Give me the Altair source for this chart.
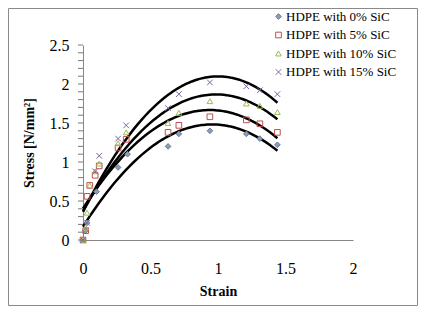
import altair as alt
import pandas as pd

series_names = ["HDPE with 0% SiC", "HDPE with 5% SiC", "HDPE with 10% SiC", "HDPE with 15% SiC"]

x_0 = [0, 0.02, 0.03, 0.10, 0.26, 0.33, 0.63, 0.71, 0.94, 1.21, 1.31, 1.44]
y_0 = [0, 0.12, 0.22, 0.62, 0.93, 1.10, 1.20, 1.36, 1.40, 1.36, 1.30, 1.22]

x_5 = [0, 0.02, 0.03, 0.05, 0.09, 0.12, 0.26, 0.32, 0.63, 0.71, 0.94, 1.21, 1.31, 1.44]
y_5 = [0, 0.12, 0.56, 0.70, 0.83, 0.95, 1.18, 1.29, 1.38, 1.47, 1.58, 1.54, 1.49, 1.38]

x_10 = [0, 0.02, 0.03, 0.05, 0.09, 0.12, 0.26, 0.32, 0.63, 0.71, 0.94, 1.21, 1.31, 1.44]
y_10 = [0, 0.16, 0.35, 0.70, 0.88, 0.98, 1.24, 1.38, 1.50, 1.63, 1.78, 1.75, 1.72, 1.64]

x_15 = [0, 0.03, 0.09, 0.12, 0.26, 0.32, 0.63, 0.71, 0.94, 1.21, 1.31, 1.44]
y_15 = [0, 0.22, 0.88, 1.08, 1.30, 1.47, 1.69, 1.87, 2.02, 1.97, 1.92, 1.87]

x_ticks = [0, 0.5, 1, 1.5, 2]
y_ticks = [0, 0.1, 0.2, 0.3, 0.4, 0.5, 0.6, 0.7, 0.8, 0.9, 1, 1.1, 1.2, 1.3, 1.4,
           1.5, 1.6, 1.7, 1.8, 1.9, 2, 2.1, 2.2, 2.3, 2.4, 2.5]

shapes = ["diamond", "square", "triangle-up", "M-1,-1L1,1M1,-1L-1,1"]
strokes = ["#6b7b99", "#c0504d", "#9bbb59", "#8064a2"]
fills = ["#8d9bb5", "transparent", "transparent", "transparent"]

rows = []
for name, xs, ys in zip(series_names, [x_0, x_5, x_10, x_15], [y_0, y_5, y_10, y_15]):
    for a, b in zip(xs, ys):
        rows.append({"series": name, "strain": a, "stress": b})
df = pd.DataFrame(rows)
tick_df = pd.DataFrame({"stress": y_ticks})

FONT = "Liberation Serif"

xenc = alt.X("strain:Q", title="Strain",
             scale=alt.Scale(domain=[0, 2], nice=False),
             axis=alt.Axis(values=x_ticks, ticks=False, grid=False, labelPadding=20,
                           titlePadding=8, labelFlush=False, format="~g",
                           labelOverlap=False))
yenc = alt.Y("stress:Q", title="Stress [N/mm²]",
             scale=alt.Scale(domain=[0, 2.5], nice=False),
             axis=alt.Axis(values=y_ticks, grid=False, ticks=False, labelPadding=14,
                           titlePadding=13, labelFlush=False, labelOverlap=False,
                           format="~g",
                           labelExpr="(datum.value * 10) % 5 == 0 ? datum.label : ''"))

points = alt.Chart(df).mark_point(size=32, strokeWidth=1, opacity=1).encode(
    x=xenc, y=yenc,
    shape=alt.Shape("series:N", scale=alt.Scale(domain=series_names, range=shapes), title=None),
    stroke=alt.Stroke("series:N", scale=alt.Scale(domain=series_names, range=strokes), title=None),
    fill=alt.Fill("series:N", scale=alt.Scale(domain=series_names, range=fills), title=None),
)

trend = alt.Chart(df).transform_regression(
    "strain", "stress", method="poly", order=2, groupby=["series"]
).mark_line(color="black", strokeWidth=2.5).encode(
    x=xenc, y=yenc, detail="series:N"
)

yticks_layer = alt.Chart(tick_df).mark_rule(color="#7a7a7a", strokeWidth=1).encode(
    y=yenc, x=alt.value(-5), x2=alt.value(0)
)

border = alt.Chart(pd.DataFrame({"a": [0]})).mark_rect(
    fill="transparent", stroke="#8a8a8a", strokeWidth=1
).encode(
    x=alt.value(-74.5), x2=alt.value(334.5), y=alt.value(-36.5), y2=alt.value(260.5)
)

chart = alt.layer(border, trend, points, yticks_layer).properties(
    width=270, height=195,
    autosize=alt.AutoSizeParams(type="none"),
    padding={"left": 75, "top": 37, "right": 65, "bottom": 66},
).configure_view(stroke=None).configure_axis(
    domainColor="#868686",
    labelFont=FONT, titleFont=FONT, labelFontSize=16, titleFontSize=14,
    labelColor="black", titleColor="black", titleFontWeight="bold",
).configure_legend(
    orient="none", legendX=189, legendY=-35, padding=0,
    labelFont=FONT, labelFontSize=13, labelColor="black",
    symbolSize=32, symbolStrokeWidth=1, labelOffset=1, rowPadding=4.5,
)

chart.save("out.html", embed_options={"renderer": "svg", "actions": False})
